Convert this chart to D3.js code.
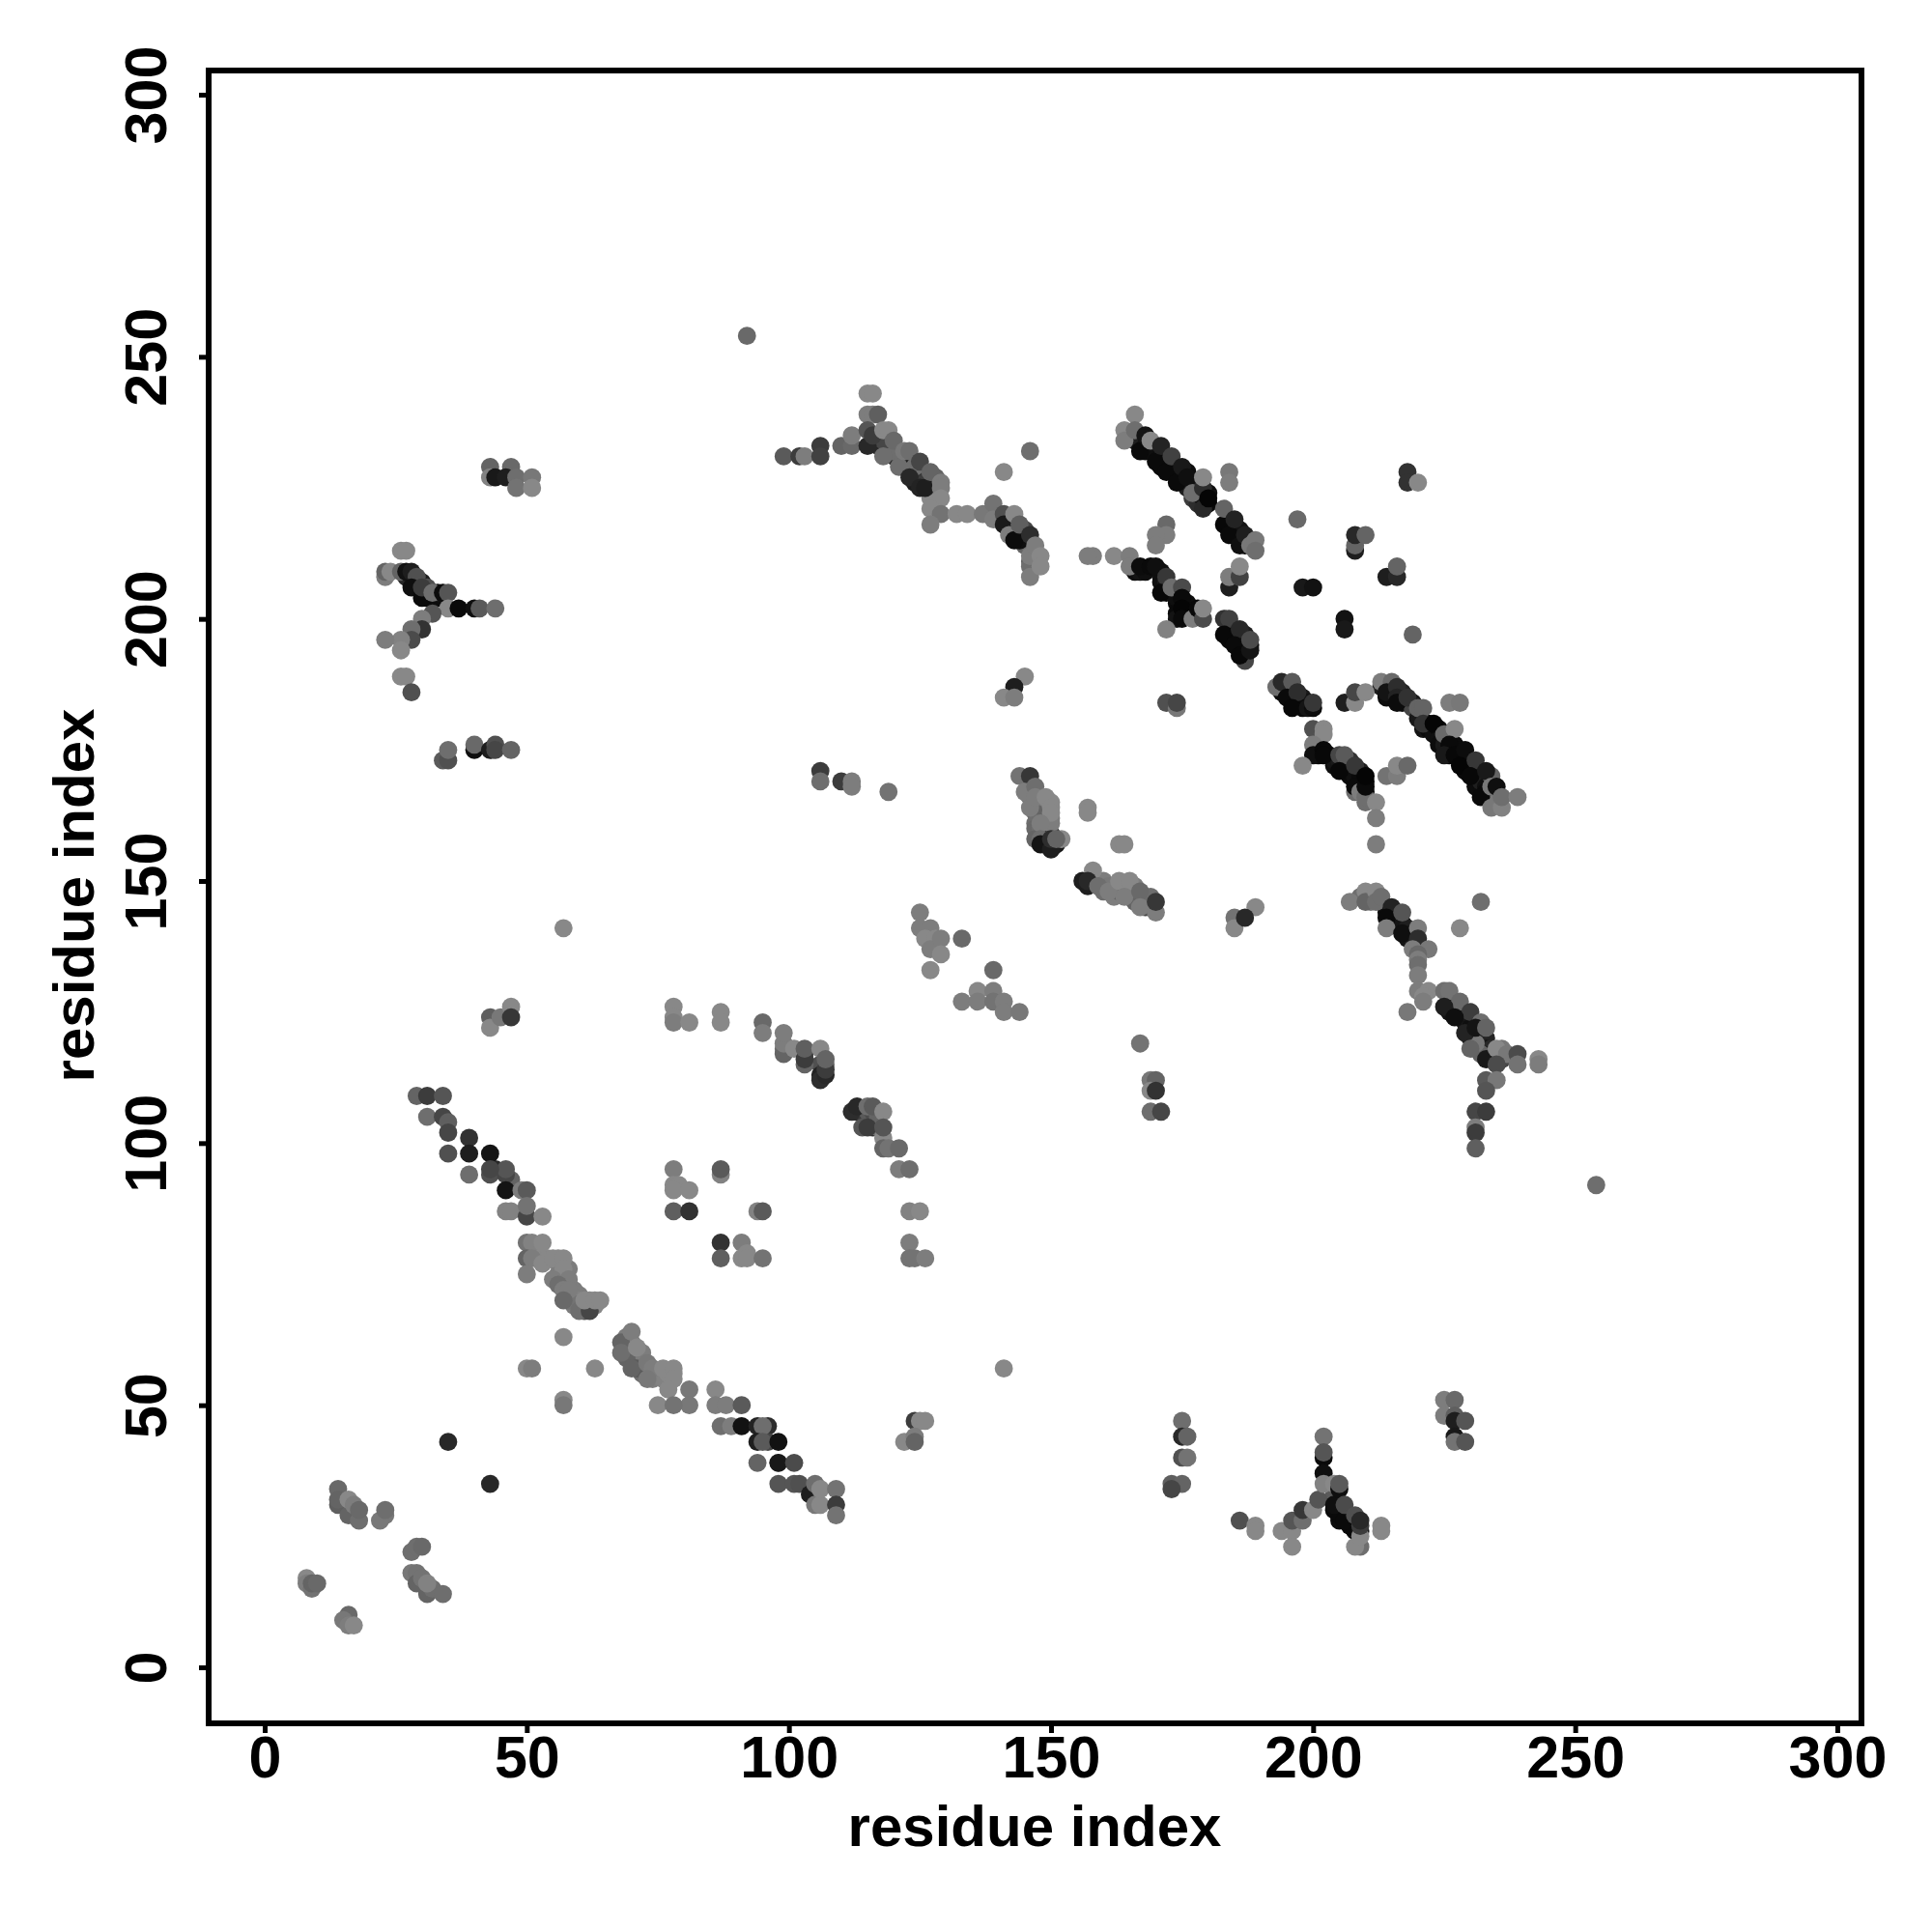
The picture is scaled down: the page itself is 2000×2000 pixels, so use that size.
<!DOCTYPE html>
<html><head><meta charset="utf-8">
<script src="https://cdnjs.cloudflare.com/ajax/libs/d3/7.8.5/d3.min.js"></script>
<style>html,body{margin:0;background:#fff}svg{display:block}text{font-family:"Liberation Sans",Arial,sans-serif;font-weight:700;fill:#000}</style>
</head><body><svg id="c" width="2000" height="2000"></svg>
<script>
// [residue x, residue y, gray level]
const bandsUnder=[[116,234,50],[117,233,45],[118,233,40],[119,232,50],[120,231,40],[121,231,60],[122,229,40],[122,230,50],[123,229,30],[124,228,35],[124,226,30],[125,228,60],[126,227,50],[119,234,80],[117,235,90],[120,232,110],[118,234,70],[124,229,110],[126,226,60],[128,227,100],[128,224,125],[128,222,136],[127,223,136],[128,220,110],
[142,218,20],[142,219,60],[143,216,25],[144,216,30],[145,215,25],[145,214,100],[146,214,110],[147,212,110],[147,210,90],[146,211,100],[145,217,70],[144,215,15],[140,220,100],[138,220,90],[140,219,120],
[165,235,110],[166,234,30],[167,234,30],[168,233,20],[168,232,15],[169,232,12],[170,232,20],[170,231,15],[171,231,12],[171,229,10],[172,230,20],[173,229,12],[173,228,15],[174,228,15],[175,227,10],[175,226,15],[176,228,12],[176,225,30],[177,226,30],[177,223,60],[178,225,25],[178,224,20],[178,222,45],[179,223,15],[180,222,10],[180,224,15],
[184,219,30],[184,217,10],[185,218,15],[185,216,10],[186,217,20],[186,215,15],[187,214,10],[187,215,25],[188,215,25],
[166,209,15],[167,209,20],[168,209,15],[171,208,20],[171,209,15],[171,207,15],[172,207,25],[172,206,15],[172,205,12],[173,205,20],[174,203,10],[174,204,15],[174,201,10],[175,201,8],[174,200,20],[176,203,12],[176,201,10],
[184,199,15],[184,198,10],[184,196,10],[185,198,25],[185,197,20],[186,196,15],[186,195,15],[187,197,30],[187,195,10],[187,194,10],[188,195,20],
[194,186,12],[194,187,25],[195,187,30],[196,185,10],[196,186,25],[197,184,10],[197,185,15],[198,185,25],[198,184,10],[199,184,20],[198,183,10],
[213,187,30],[214,187,20],[215,186,12],[215,187,35],[216,186,25],[217,186,35],[217,184,12],[218,184,20],[219,184,25],[219,183,70],[214,185,12]];
const bandsLower=[[220,181,25],[221,179,20],[222,180,10],[222,179,10],[223,178,15],[224,179,8],[224,177,15],[224,176,12],[225,176,25],[226,175,10],[226,174,8],[227,176,12],[228,175,12],[228,173,8],[229,173,12],[229,171,10],[230,173,25],[230,172,15],[231,171,12],[231,170,10],[231,168,12],[232,170,20],[232,169,30],[233,168,15],[233,167,10],[234,170,100],[234,166,50],[235,166,60],[235,165,120],
[201,175,10],[201,174,8],[203,174,8],[204,172,15],[204,173,20],[205,173,25],[206,172,12],[206,171,10],[207,171,15],[207,173,50],[207,170,10],[208,170,15],[209,169,10],[209,171,30],[209,170,10],[210,169,8],[210,167,10],[208,167,110],
[209,147,110],[211,147,90],[211,146,120],[213,146,110],[214,145,30],[214,144,15],[215,143,15],[215,144,10],[216,143,25],[216,142,60],[217,142,20],[218,141,30],[218,139,20],[219,140,25],[219,139,30],
[226,127,35],[226,125,20],[227,126,30],[227,125,20],[228,125,15],[228,124,15],[229,124,35],[229,123,20],[230,123,25],[230,122,15],[230,120,20],[231,121,40],[231,120,15],[232,121,25],[232,119,15],[233,120,35],[233,118,20],[233,117,30],[234,118,40],[234,117,25],[234,116,50],[235,117,90],[236,116,70],[236,118,120],[232,117,100],[231,119,120],
[69,63,125],[69,61,110],[70,62,130],[70,60,100],[71,59,110],[72,58,100],[72,60,125],[72,56,110],[75,56,125],[74,55,125],[76,55,130],[77,56,136],[78,56,136],[69,59,100],[71,57,90],
[52,79,136],[54,78,136],[56,78,136],[56,77,136],[56,75,125],[56,74,115],[57,74,110],[57,75,125],[58,76,125],[58,73,120],[59,72,125],[58,71,110],[59,70,120],[60,71,125],[60,70,130],[61,69,125],[62,69,125],[62,70,136],[63,69,136],[61,68,80],[59,69,125],[60,69,120],[58,70,115],
[146,168,110],[146,167,100],[146,166,115],[147,167,100],[147,165,100],[147,164,110],[148,166,125],[148,165,110],[148,164,115],[148,163,110],[148,162,120],[149,165,125],[149,164,130],[149,163,130],[149,162,125],[149,161,125],[147,163,100],[147,161,110],[147,160,105],[148,160,110],[147,158,100],[149,159,40],[149,158,35],[149,157,30],[150,157,25],[151,157,25],[151,158,110],[150,159,60],[150,165,136],[150,162,125],[150,161,125],
[159,150,120],[160,150,125],[160,148,110],[161,149,120],[162,149,120],[162,147,125],[163,149,120],[163,148,100],[164,149,105],[165,148,100],[165,147,90],[166,147,105],[166,146,100],[166,149,125],[168,147,85],[168,146,90],[168,145,70],[169,145,85],[169,147,110],
[103,117,70],[99,118,110],[107,115,110],[106,115,80],[106,113,35],[113,106,40],[114,106,60],[115,106,90],[116,106,75],[116,103,45],[117,103,110],[117,105,100],[44,95,40],[96,46,45],[96,43,70],[47,93,100],
[29,207,15],[29,206,12],[30,207,30],[30,205,15],[31,204,10],[32,204,10],[33,204,12],[33,205,20],[31,205,15],[28,208,15],[27,208,40],
[205,30,10],[205,28,12],[207,29,70],[207,27,10],[208,27,12],[208,28,50],[208,26,10],[209,26,20],[205,29,10],[204,32,20],[204,33,90]];
const nTerminal=[[8,17,136],[8,16,125],[9,15,115],[9,16,100],[10,16,105],[16,10,105],[15,9,120],[16,8,125],[17,8,136],
[14,34,105],[14,31,95],[14,32,100],[16,29,100],[18,28,110],[16,32,136],[17,31,125],[18,30,105],[23,29,120],[22,28,120],[23,30,110],
[28,22,110],[29,23,110],[30,23,105],[28,18,120],[29,18,115],[29,16,100],[30,17,115],[31,14,100],[32,15,110],[31,16,130],[34,14,110],[35,43,40],[43,35,40]];
const diagonalA=[[29,109,100],[31,109,60],[34,109,85],[31,105,110],[34,105,70],[35,104,95],[35,102,70],[35,98,80],[39,101,50],[39,98,30],[39,94,110],
[43,94,80],[43,98,20],[46,94,70],[46,95,85],[43,95,70],[46,91,20],[49,91,125],[50,91,90],[46,87,130],[47,87,130],[50,86,70],[50,88,115],[53,86,136],
[50,81,115],[51,81,130],[53,81,136],[50,78,100],[51,78,125],[53,77,136],[50,75,125],[55,78,136],[57,78,136],[57,76,136],[55,74,125],[58,74,125],[56,73,110],[57,72,125],[58,72,125],[57,70,105],[60,68,110],[62,68,70],[61,70,136],[63,70,136],[64,70,136],
[57,63,136],[50,57,136],[51,57,125],[63,57,136],[57,51,136],[57,50,120]];
const diagonalB=[[68,62,100],[70,64,125],[68,60,110],[71,61,136],[70,57,100],[73,58,120],[74,57,125],[73,55,120],[76,57,136],[78,57,136],[78,55,136],[77,53,136],[81,53,120],[81,50,120],[75,50,136],[78,50,115],
[86,53,136],[86,50,125],[87,46,110],[88,50,125],[89,46,125],[91,50,90],[91,46,18],[94,46,35],[95,46,110],[94,43,30],[95,43,90],[98,43,18],[94,39,100],[98,39,136],[98,39,25],[101,39,75],[98,35,85],[101,35,85],[102,35,80],[104,33,30],[105,35,110],[105,31,120],[106,31,136],[106,34,136],[109,34,115],[109,31,60],[109,29,115]];
const centerArc=[[78,126,136],[78,124,136],[78,123,125],[81,123,136],[87,125,136],[87,123,136],[95,123,105],[95,121,125],[99,117,100],[99,119,125],[99,121,125],[101,118,136],[103,115,100],[103,116,60],[103,118,95],[106,118,136],[106,112,45],[107,113,40],[107,114,60],[107,116,100],
[112,106,45],[113,107,40],[115,107,110],[116,107,90],[118,106,136],[114,103,85],[115,103,60],[118,101,136],[118,103,85],[118,99,100],[119,99,115],[121,99,105],[121,95,125],[123,95,110],[123,87,130],[125,87,136],[123,81,125],[123,78,115],[124,78,115],[126,78,125],
[78,95,125],[78,92,136],[79,92,136],[78,91,136],[81,91,136],[78,87,95],[81,87,50],[87,94,130],[87,95,90],[94,87,130],[95,87,90],[87,81,50],[87,78,95],[91,81,125],[91,78,136],[92,79,136],[92,78,136],[95,78,115],
[124,47,60],[125,47,136],[126,47,136],[122,43,136],[124,44,125],[124,43,100]];
const upperLeft=[[43,229,100],[47,229,105],[43,227,130],[44,227,25],[46,227,30],[48,227,110],[48,225,115],[51,227,120],[51,225,136],
[26,213,136],[27,213,136],[23,208,125],[23,209,100],[24,209,136],[26,209,100],[27,209,18],[28,209,30],[29,208,80],[28,206,15],[30,204,10],[31,206,80],[30,206,60],[32,205,110],[34,205,12],[35,205,85],[35,202,136],[37,202,10],[40,202,15],[41,202,90],[44,202,110],[32,201,85],
[30,200,125],[30,198,50],[28,198,110],[28,196,75],[26,196,130],[23,196,125],[26,194,136],[26,189,136],[27,189,136],[28,186,80],
[34,173,90],[35,173,80],[35,175,110],[40,175,15],[40,176,105],[43,175,30],[44,176,80],[44,175,70],[47,175,100],[57,141,136],[43,124,95],[43,122,136],[45,124,120],[47,126,136],[47,124,55],[92,254,105],[254,92,110],[141,57,136]];
const topArc=[[99,231,90],[102,231,60],[103,231,125],[106,233,60],[106,231,65],[110,233,100],[112,233,105],[112,235,125],[115,243,136],[116,243,136],[115,239,125],[116,239,125],[117,239,95],[115,233,40],[115,236,85],[116,235,60],[118,231,110],[118,236,136],[119,236,136],[120,234,105],[121,229,110],[122,232,120],[123,227,40],[123,232,110],[125,230,70],[125,225,35],[126,225,30],[127,228,100],[129,226,125],[129,225,125],[129,223,136],[127,221,136],[129,220,115],[127,218,125],
[132,220,136],[134,220,136],[137,220,120],[139,222,115],[139,219,125],[141,220,80],[141,218,25],[142,216,125],[143,215,12],[143,220,136],[144,218,95],[146,216,45],[146,210,110],[146,208,125],[146,212,125],[147,214,125],[148,212,136],[148,210,136],[141,228,136],[146,232,110],[145,189,136],[143,187,30],[141,185,136],[143,185,125]];
const upperRight1=[[166,239,136],[164,236,136],[164,234,125],[166,236,110],[167,232,10],[168,235,20],[169,234,136],[170,230,10],[171,233,35],[172,228,10],[173,231,65],[174,226,10],[175,229,25],[176,227,15],[177,224,110],[179,225,45],[179,221,40],[179,227,136],[180,223,5],
[184,228,120],[184,226,125],[183,218,8],[183,221,100],[184,216,10],[185,219,35],[186,214,15],[187,216,30],[188,214,120],[189,215,120],[189,213,110],[197,219,105],[208,213,30],[208,214,100],[208,216,40],[210,216,100],[218,228,50],[218,226,50],[220,226,136],
[172,218,105],[172,216,125],[170,216,125],[170,214,125],[158,212,125],[162,212,136],[165,212,125],[165,210,125],[167,210,12],[169,210,10],[170,210,15],[172,208,55],[171,205,8],[173,206,110],[175,206,75],[175,204,10],[175,202,5],[175,200,10],[177,200,125],[178,202,8],[179,200,75],[179,202,136],[172,198,130],
[184,206,30],[184,208,125],[186,208,65],[186,210,136],[183,200,50],[184,200,65],[183,197,8],[186,198,40],[185,195,10],[187,192,70],[186,193,8],[188,194,20],[188,196,75],
[198,206,25],[200,206,18],[206,200,18],[206,198,25],[219,197,100],[214,208,30],[216,208,40],[216,210,100]];
const upperRight2=[[172,184,80],[174,183,120],[174,184,70],[193,187,110],[194,188,40],[196,188,90],[195,185,10],[197,186,45],[196,183,8],[199,183,20],[200,183,12],[200,184,55],[206,184,30],[208,184,136],[208,186,70],[210,186,136],
[213,188,125],[215,188,105],[214,186,20],[216,187,45],[216,185,35],[216,184,12],[218,185,50],[220,183,100],[221,183,100],
[200,179,80],[202,179,136],[202,178,136],[200,176,125],[200,174,15],[202,175,8],[202,174,8],[205,174,70],[206,174,90],[205,171,8],[208,172,55],[208,168,10],[209,167,125],[210,165,110],[210,166,110],[210,168,10],[210,170,5],[212,165,136],[212,162,125],[212,157,125],[198,172,136],[214,170,115],[216,170,125],[216,172,136],[218,172,105],
[226,184,125],[228,184,120],[221,180,50],[223,180,5],[225,178,105],[227,179,136],[226,176,10],[225,174,25],[227,174,8],[229,175,12],[228,172,5],[231,173,55],[230,170,8],[233,171,25],[232,166,10],[234,168,120],[235,168,15],[234,164,120],[236,164,130],[236,166,110],[239,166,125]];
const midCluster=[[144,170,115],[146,170,55],[145,167,125],[147,168,110],[146,164,125],[147,166,125],[149,166,136],[150,164,136],[150,163,136],[148,161,125],[148,158,110],[148,157,20],[150,156,30],[150,158,45],[152,158,136],[157,164,136],[157,163,136],[163,157,136],[164,157,136],
[156,150,30],[158,152,136],[157,149,30],[157,150,40],[159,149,110],[161,148,125],[163,150,136],[165,150,136],[164,147,125],[167,148,105],[167,145,125],[170,144,125],[170,146,55],[189,145,136],[185,143,115],[185,141,136],[187,143,40],
[125,144,125],[125,141,125],[127,141,125],[126,139,136],[128,139,136],[127,137,125],[129,139,125],[129,136,136],[127,133,136],[133,139,105],[139,133,105],[133,127,125],[136,129,136],[139,129,125],[136,127,125],[139,127,115],[141,127,125],[141,125,125],[144,125,120],
[167,119,115],[169,112,120],[170,112,100],[169,110,136],[170,110,50],[169,106,110],[171,106,70],[106,171,60],[106,169,110],[110,169,60],[112,169,125],[112,168,125],[119,167,115],[151,158,100],[157,212,125]];
const lowerRight=[[207,146,125],[210,148,136],[210,146,100],[212,148,136],[212,146,110],[213,147,110],[215,145,35],[214,143,10],[217,144,85],[214,141,125],[217,140,15],[220,141,125],[220,139,45],[219,137,125],[222,137,120],[220,136,105],[220,135,125],[220,134,110],[220,132,125],
[232,146,110],[228,141,136],[220,129,125],[222,129,136],[221,128,136],[221,127,125],[218,125,120],[225,129,110],[226,129,115],[228,127,105],[225,126,30],[230,125,60],[227,124,15],[229,121,35],[232,123,110],[231,122,20],[233,122,100],[230,118,100],[233,116,25],[235,118,136],[237,117,120],[235,115,75],[239,117,75],[239,115,115],[243,116,136],[243,115,125],
[233,112,90],[235,112,120],[233,110,85],[231,106,70],[233,106,60],[231,103,125],[231,102,60],[231,99,95]];
const lowerClusters=[[175,47,110],[175,44,40],[176,44,100],[175,40,80],[176,40,115],[173,35,95],[175,35,100],[173,34,70],
[186,28,80],[189,27,136],[189,26,136],[194,26,136],[196,26,136],[196,28,85],[196,23,136],[198,28,110],[198,30,55],[200,30,136],[201,32,85],[202,44,115],[202,40,10],[202,41,85],[202,37,15],[202,35,130],[204,30,10],[204,31,15],[204,35,136],[205,34,15],[205,35,90],[206,28,10],[206,31,75],[208,29,80],[209,23,110],[208,23,136],[209,25,136],[209,27,60],[209,28,40],[213,27,136],[213,26,136],
[225,51,125],[227,51,105],[225,48,125],[227,48,95],[227,47,30],[229,47,85],[227,44,25],[227,43,115],[229,43,85]];

const tickValues=[0,50,100,150,200,250,300];
const axisTitle="residue index";
const groups=[bandsUnder,bandsLower,nTerminal,diagonalA,diagonalB,centerArc,upperLeft,topArc,upperRight1,upperRight2,midCluster,lowerRight,lowerClusters];

const W=2000,H=2000;
const frame={l:216,r:1927,t:73,b:1784};
const x=d3.scaleLinear().domain([0,300]).range([274,1902]);
const y=d3.scaleLinear().domain([0,300]).range([1726,98]);
const svg=d3.select("#c");
svg.append("rect").attr("width",W).attr("height",H).attr("fill","#fff");

const points=svg.append("g");
points.selectAll("g").data(groups).join("g").selectAll("circle").data(d=>d).join("circle")
  .attr("cx",d=>x(d[0])).attr("cy",d=>y(d[1])).attr("r",9.4)
  .attr("fill",d=>d3.rgb(d[2],d[2],d[2]));

svg.append("rect").attr("x",frame.l).attr("y",frame.t).attr("width",frame.r-frame.l).attr("height",frame.b-frame.t)
  .attr("fill","none").attr("stroke","#000").attr("stroke-width",6);

const gx=svg.append("g").attr("transform",`translate(0,${frame.b})`)
  .call(d3.axisBottom(x).tickValues(tickValues).tickSize(10).tickPadding(0).tickFormat(d3.format("d")));
const gy=svg.append("g").attr("transform",`translate(${frame.l},0)`)
  .call(d3.axisLeft(y).tickValues(tickValues).tickSize(10).tickFormat(d3.format("d")));
gx.select(".domain").remove(); gy.select(".domain").remove();
gx.selectAll(".tick line").attr("stroke","#000").attr("stroke-width",5);
gy.selectAll(".tick line").attr("stroke","#000").attr("stroke-width",5);
gx.selectAll(".tick text").attr("y",56).attr("dy",0).attr("font-size",61).attr("text-anchor","middle");
gy.selectAll(".tick text").attr("x",0).attr("dy",0).attr("font-size",61).attr("text-anchor","middle")
  .attr("transform","translate(-44,0) rotate(-90)");

svg.append("text").attr("x",1071).attr("y",1911).attr("text-anchor","middle").attr("font-size",60).text(axisTitle);
svg.append("text").attr("transform","translate(97,927) rotate(-90)").attr("text-anchor","middle").attr("font-size",60).text(axisTitle);
</script></body></html>
